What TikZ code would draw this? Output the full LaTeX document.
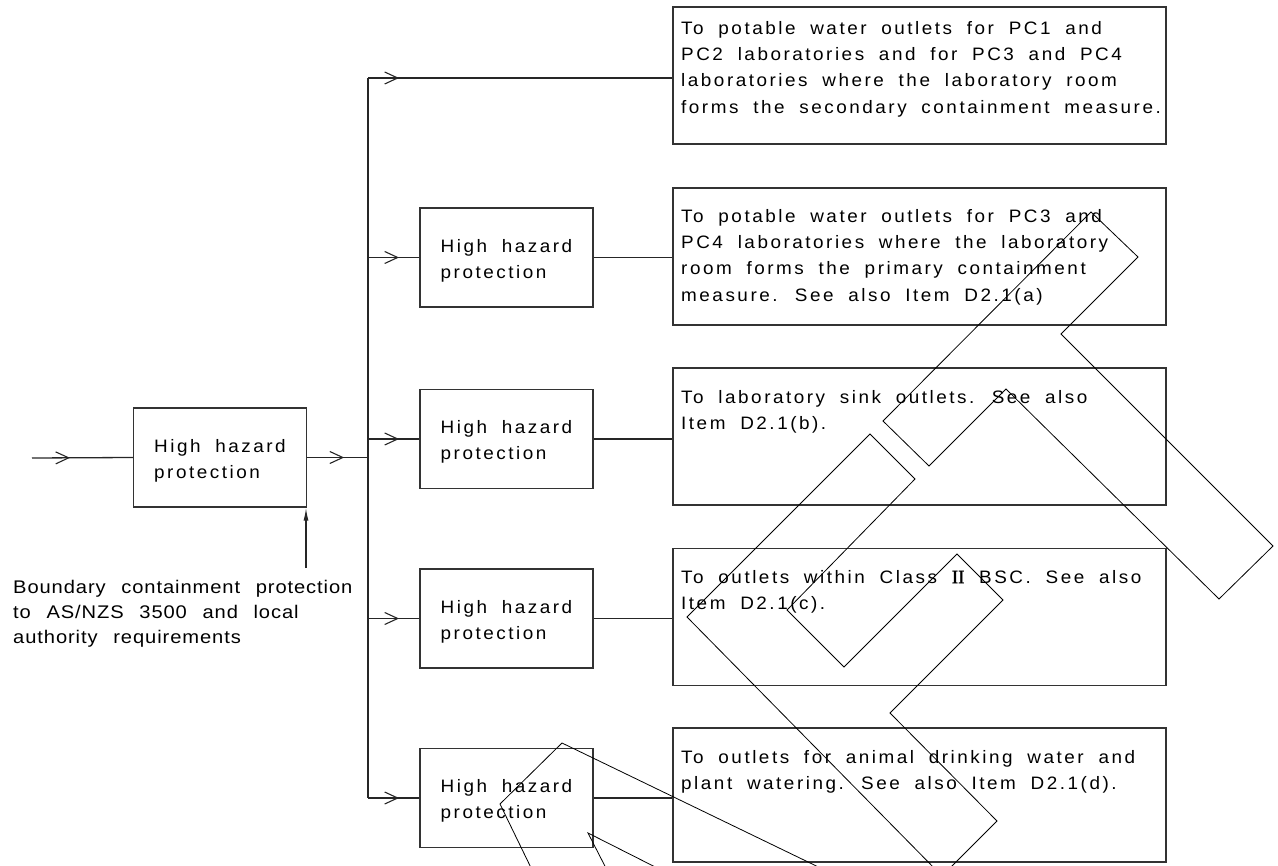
\documentclass[tikz,border=0pt]{standalone}
\usepackage{fontspec}
\usetikzlibrary{arrows.meta,decorations.markings}
\newfontfamily\cadfont{Liberation Sans}[LetterSpace=14,FakeStretch=1.05,WordSpace=1.9]
\newfontfamily\cadfontb{Liberation Sans}[LetterSpace=5,FakeStretch=1.1,WordSpace=2.4]
\newfontfamily\romanII{Liberation Serif}[FakeBold=1.5]
\newcommand\hhstrut{\rule{0pt}{19pt}}
\tikzset{
  box/.style={draw=black!80, line width=1.3pt, rectangle, inner sep=0pt},
  hh/.style={box, minimum width=173pt, minimum height=99pt, align=left,
    font=\cadfont\fontsize{18}{26}\selectfont},
  tbox/.style={box, minimum width=493pt, minimum height=137pt},
  ttext/.style={anchor=north west, inner sep=0pt, align=left,
    font=\cadfont\fontsize{18}{26.3}\selectfont},
  wire/.style={line width=1.3pt, draw=black!85},
  barb/.style={postaction={decorate}, decoration={markings,
    mark=at position #1 with {\arrow{Straight Barb[length=13pt,width=12pt,line width=1.1pt]}}}},
  wm/.style={line width=0.8pt, draw=black},
}
\begin{document}
\begin{tikzpicture}[x=1pt,y=-1pt]
\useasboundingbox (0,0) rectangle (1278,866);
% protection boxes
\node[hh] (h0) at (220,457.5) {\hhstrut High hazard\\protection};
\node[hh] (h1) at (506.5,257.5) {\hhstrut High hazard\\protection};
\node[hh] (h2) at (506.5,439) {\hhstrut High hazard\\protection};
\node[hh] (h3) at (506.5,618.5) {\hhstrut High hazard\\protection};
\node[hh] (h4) at (506.5,798) {\hhstrut High hazard\\protection};
% outlet boxes
\node[tbox] (t1) at (919.5,75.5) {};
\node[tbox] (t2) at (919.5,256.5) {};
\node[tbox] (t3) at (919.5,436.5) {};
\node[tbox] (t4) at (919.5,617) {};
\node[tbox, minimum height=134pt] (t5) at (919.5,795) {};
\node[ttext] (x1) at (681,21) {To potable water outlets for PC1 and\\PC2 laboratories and for PC3 and PC4\\laboratories where the laboratory room\\forms the secondary containment measure.};
\node[ttext] (x2) at (681,209) {To potable water outlets for PC3 and\\PC4 laboratories where the laboratory\\room forms the primary containment\\measure. See also Item D2.1(a)};
\node[ttext] (x3) at (681,390) {To laboratory sink outlets. See also\\Item D2.1(b).};
\node[ttext] (x4) at (681,570) {To outlets within Class {\romanII\fontsize{19}{26}\selectfont II} BSC. See also\\Item D2.1(c).};
\node[ttext] (x5) at (681,750) {To outlets for animal drinking water and\\plant watering. See also Item D2.1(d).};
\node[ttext, font=\cadfontb\fontsize{18.3}{25}\selectfont] (bt) at (13,580) {Boundary containment protection\\to AS/NZS 3500 and local\\authority requirements};
% connectors
\coordinate (in) at (32,458);
\coordinate (btop) at (368,78);
\coordinate (bbot) at (368,798);
\coordinate (ba) at (306,568);
\draw[wire] (btop) -- (bbot);
\draw[wire, barb=38pt] (in) -- (h0.west);
\draw[wire, barb=37pt] (h0.east) -- (h0.east -| btop);
\draw[wire, barb=31pt] (btop) -- (btop -| t1.west);
\foreach \i/\j in {h1/t2,h2/t3,h3/t4,h4/t5}{
  \draw[wire, barb=31pt] (\i.west -| btop) -- (\i.west);
  \draw[wire] (\i.east) -- (\i.east -| \j.west);
}
\draw[wire, -{Latex[length=13pt,width=5pt]}] (ba) -- (ba |- h0.south);
% overlaid outline strokes
\begin{scope}
\clip (0,0) rectangle (1278,866);
\draw[wm] (1091,212) -- (1138,257) -- (1061,334) -- (1273,546) -- (1219,599) -- (1006,389) -- (929,466) -- (883,421) -- cycle;
\draw[wm] (942,876) -- (687,617) -- (870,434) -- (915,479) -- (787,610) -- (844,667) -- (957,554) -- (1003,600) -- (890,713) -- (997,821) -- (942,876);
\draw[wm] (535,876) -- (500,804) -- (562,743) -- (837,876);
\draw[wm] (610,876) -- (588,833) -- (673,876);
\end{scope}
\end{tikzpicture}
\end{document}
